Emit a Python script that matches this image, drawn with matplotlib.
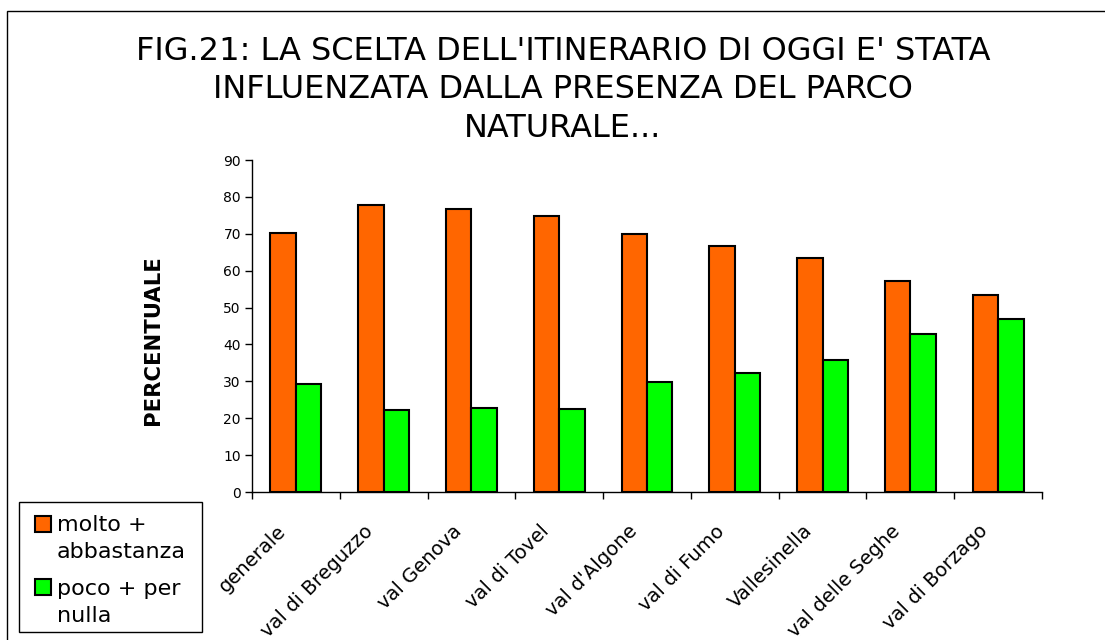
import matplotlib
matplotlib.use("Agg")
import matplotlib.pyplot as plt
import matplotlib.transforms as mtransforms
from matplotlib.patches import Rectangle
import numpy as np

categories = ["generale", "val di Breguzzo", "val Genova", "val di Tovel", "val d'Algone",
              "val di Fumo", "Vallesinella", "val delle Seghe", "val di Borzago"]
molto = [70.1, 77.8, 76.6, 74.9, 70.0, 66.8, 63.5, 57.2, 53.5]
poco = [29.2, 22.3, 22.7, 22.5, 29.9, 32.3, 35.9, 42.9, 46.8]
series_labels = [["molto +", "abbastanza"], ["poco + per", "nulla"]]
series_colors = ["#FF6600", "#00FF00"]
title_lines = ["FIG.21: LA SCELTA DELL'ITINERARIO DI OGGI E' STATA",
               "INFLUENZATA DALLA PRESENZA DEL PARCO",
               "NATURALE..."]
y_ticks = list(range(0, 91, 10))

W, H = 1105, 640
plt.rcParams['font.family'] = ['DejaVu Sans']
fig = plt.figure(figsize=(W / 100, H / 100), dpi=100)


def fx(px):
    return px / W


def fy(py):
    return 1 - py / H


ax = fig.add_axes([fx(252), fy(492), (1042 - 252) / W, (492 - 160) / H])

x = np.arange(len(categories))
bw = 0.29
ax.bar(x - bw / 2, molto, bw, color=series_colors[0], edgecolor="black", linewidth=1.5)
ax.bar(x + bw / 2, poco, bw, color=series_colors[1], edgecolor="black", linewidth=1.5)

ax.set_xlim(-0.5, len(categories) - 0.5)
ax.set_ylim(0, 90)
ax.set_yticks(y_ticks)
ax.tick_params(axis='y', labelsize=10, length=5, width=1, direction='out', pad=3)

ax.set_xticks(np.arange(len(categories) + 1) - 0.5)
ax.set_xticklabels([])
ax.tick_params(axis='x', length=5, width=1, direction='out')
ax.set_xticks(x, minor=True)
ax.set_xticklabels(categories, minor=True, rotation=45, ha='right', va='center',
                   rotation_mode='anchor', fontsize=14)
ax.tick_params(axis='x', which='minor', length=0, pad=26)
offset = mtransforms.ScaledTranslation(-13 / 100, 0, fig.dpi_scale_trans)
for lab in ax.get_xticklabels(minor=True):
    lab.set_transform(lab.get_transform() + offset)

for s in ['top', 'right']:
    ax.spines[s].set_visible(False)
for s in ['left', 'bottom']:
    ax.spines[s].set_linewidth(1)

fig.text(fx(153), fy(340), "PERCENTUALE", rotation=90, ha='center', va='center',
         fontsize=15.2, fontweight='bold')

for line, yb in zip(title_lines, [60, 98.5, 137]):
    fig.text(fx(563), fy(yb), line, ha='center', va='baseline', fontsize=23)

# legend (drawn as figure artists)
fig.patches.append(Rectangle((fx(19), fy(632)), (202 - 19) / W, (632 - 502) / H,
                             transform=fig.transFigure, fill=False,
                             edgecolor='black', linewidth=1))
marker_tops = [516, 579]
baselines = [(531, 558), (595, 622)]
for col, lab, mt, bl in zip(series_colors, series_labels, marker_tops, baselines):
    fig.patches.append(Rectangle((fx(35), fy(mt + 16)), 16 / W, 16 / H,
                                 transform=fig.transFigure, facecolor=col,
                                 edgecolor='black', linewidth=1.5))
    for txt, b in zip(lab, bl):
        fig.text(fx(57), fy(b), txt, ha='left', va='baseline', fontsize=16)

# outer chart border
fig.patches.append(Rectangle((fx(7), -0.5), 2, 1.5 - 11 / H, transform=fig.transFigure,
                             fill=False, edgecolor='black', linewidth=1))

fig.savefig("out.png", dpi=100)
